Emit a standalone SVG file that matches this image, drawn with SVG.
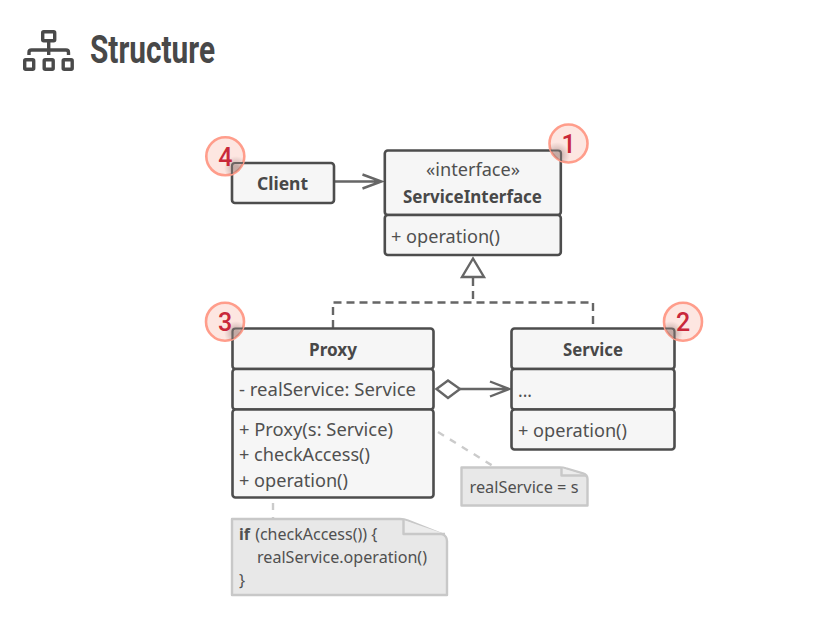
<svg xmlns="http://www.w3.org/2000/svg" width="839" height="626" viewBox="0 0 839 626">
<defs>
<radialGradient id="sh" cx="0.5" cy="0.5" r="0.5"><stop offset="0.2" stop-color="#8a6f6a" stop-opacity="0.5"/><stop offset="1" stop-color="#a08080" stop-opacity="0"/></radialGradient>
<clipPath id="c1"><circle cx="568.500" cy="143.500" r="19"/></clipPath>
<clipPath id="c2"><circle cx="683" cy="321.700" r="19"/></clipPath>
<clipPath id="c3"><circle cx="225" cy="321.700" r="19"/></clipPath>
<clipPath id="c4"><circle cx="225.300" cy="156.300" r="19"/></clipPath>
</defs>
<style>
text{font-family:"Noto Sans","Open Sans",sans-serif;fill:#505050;font-size:18.500px}
.b{font-weight:700;fill:#484848}
.box{fill:#f6f6f6;stroke:#4d4d4d;stroke-width:2.600}
.con{fill:none;stroke:#666;stroke-width:2.400}
.dash{stroke-dasharray:8 5}
.note{fill:#e8e8e8;stroke:#c8c8c8;stroke-width:2.400;stroke-linejoin:round}
.nl{fill:none;stroke:#cbcbcb;stroke-width:2.400;stroke-dasharray:7 7}
.nt{font-size:16px}
.badge{fill:#fde6e1;stroke:#ff9d8b;stroke-width:2.600}
.num{font-size:25px;font-weight:500;fill:#c9283a;text-anchor:middle;font-family:"Roboto",sans-serif}
.cor{fill:none;stroke:#6b6462;stroke-width:2.200}
.ic{fill:none;stroke:#4a4a4a;stroke-width:3.400}
</style>
<g id="header">
<g class="ic">
<rect x="42.700" y="31.700" width="12" height="9" rx="1"/>
<rect x="24.700" y="59.700" width="9" height="9.500" rx="1"/>
<rect x="44.200" y="59.700" width="9" height="9.500" rx="1"/>
<rect x="63.200" y="59.700" width="9" height="9.500" rx="1"/>
<path d="M48.700 41V55M29 55V52.500Q29 50 31.500 50H66Q68.500 50 68.500 52.500V55"/>
</g>
<text x="90" y="62.500" style="font-family:'Roboto',sans-serif;font-size:38px;font-weight:700;fill:#484848" textLength="125" lengthAdjust="spacingAndGlyphs">Structure</text>
</g>
<g id="connectors">
<path class="con" d="M335 181.500H381.500M362.500 174.500L381.500 181.500L362.500 188.500"/>
<path class="con dash" d="M473 278V302.500"/>
<path class="con dash" d="M333 328V302.500H593V328"/>
<path class="con" d="M473 258.500L462 277H484Z" style="fill:#fff"/>
<path class="con" d="M436.500 389L448 380.500L460 389L448 398Z" style="fill:#fff"/>
<path class="con" d="M460 389H509M490 381.500L509 389L490 396.500"/>
<path class="nl" d="M438 432L493 466"/>
<path class="nl" d="M273 503V518"/>
</g>
<g id="client">
<rect class="box" x="232" y="163" width="102" height="40" rx="3"/>
<text class="b" x="257" y="190" textLength="51" lengthAdjust="spacingAndGlyphs">Client</text>
</g>
<g id="service-interface">
<rect class="box" x="384.800" y="150.500" width="176" height="64.500" rx="3"/>
<rect class="box" x="384.800" y="215" width="176" height="40" rx="3"/>
<text x="426" y="176" textLength="94" lengthAdjust="spacingAndGlyphs">«interface»</text>
<text class="b" x="403" y="203" textLength="139" lengthAdjust="spacingAndGlyphs">ServiceInterface</text>
<text x="391" y="243" textLength="109" lengthAdjust="spacingAndGlyphs">+ operation()</text>
</g>
<g id="proxy">
<rect class="box" x="232.500" y="328.500" width="201" height="40.500" rx="3"/>
<rect class="box" x="232.500" y="369" width="201" height="40.500" rx="3"/>
<rect class="box" x="232.500" y="409.500" width="201" height="88" rx="3"/>
<text class="b" x="309" y="356" textLength="48" lengthAdjust="spacingAndGlyphs">Proxy</text>
<text x="239" y="396" textLength="177" lengthAdjust="spacingAndGlyphs">- realService: Service</text>
<text x="239" y="436" textLength="154" lengthAdjust="spacingAndGlyphs">+ Proxy(s: Service)</text>
<text x="239" y="461" textLength="131" lengthAdjust="spacingAndGlyphs">+ checkAccess()</text>
<text x="239" y="487" textLength="109" lengthAdjust="spacingAndGlyphs">+ operation()</text>
</g>
<g id="service">
<rect class="box" x="511.500" y="328.500" width="163" height="40.500" rx="3"/>
<rect class="box" x="511.500" y="369" width="163" height="40.500" rx="3"/>
<rect class="box" x="511.500" y="409.500" width="163" height="40" rx="3"/>
<text class="b" x="563" y="356" textLength="60" lengthAdjust="spacingAndGlyphs">Service</text>
<text x="518" y="397" textLength="14" lengthAdjust="spacingAndGlyphs">...</text>
<text x="518" y="437" textLength="109" lengthAdjust="spacingAndGlyphs">+ operation()</text>
</g>
<g id="note-assign">
<path class="note" d="M461.500 467.500H560Q563 467.500 566 468.500L583 473.500Q587.500 475 587.500 479V505.500H461.500Z"/>
<path class="note" style="fill:#ececec" d="M561.500 468V475.500H586"/>
<text class="nt" x="469.500" y="493" textLength="109" lengthAdjust="spacingAndGlyphs">realService = s</text>
</g>
<g id="note-check">
<path class="note" d="M232 519H400Q404 519 408 520.500L442 534Q447 536 447 541V595H232Z"/>
<path class="note" style="fill:#ececec" d="M403.500 520V534H445"/>
<text class="nt" x="239" y="540"><tspan font-weight="700">if</tspan><tspan dx="1"> (checkAccess()) {</tspan></text>
<text class="nt" x="257" y="563" textLength="170" lengthAdjust="spacingAndGlyphs">realService.operation()</text>
<text class="nt" x="239" y="586">}</text>
</g>
<g id="badge-1">
<circle class="badge" cx="568.500" cy="143.500" r="19"/>
<g clip-path="url(#c1)"><circle cx="557" cy="155" r="13" fill="url(#sh)"/><path class="cor" d="M550 150.500H558Q561 150.500 561 153.500V162"/></g>
<text class="num" x="568.500" y="153">1</text>
</g>
<g id="badge-2">
<circle class="badge" cx="683" cy="321.700" r="19"/>
<g clip-path="url(#c2)"><circle cx="671" cy="333" r="12" fill="url(#sh)"/><path class="cor" d="M664 328.500H671.500Q674.500 328.500 674.500 331.500V340"/></g>
<text class="num" x="683" y="331">2</text>
</g>
<g id="badge-3">
<circle class="badge" cx="225" cy="321.700" r="19"/>
<g clip-path="url(#c3)"><circle cx="236" cy="333" r="12" fill="url(#sh)"/><path class="cor" d="M244 328.500H235.500Q232.500 328.500 232.500 331.500V340"/></g>
<text class="num" x="225" y="331">3</text>
</g>
<g id="badge-4">
<circle class="badge" cx="225.300" cy="156.300" r="19"/>
<g clip-path="url(#c4)"><circle cx="236" cy="168" r="12" fill="url(#sh)"/><path class="cor" d="M244 163H235Q232 163 232 166V175"/></g>
<text class="num" x="225.300" y="165.500">4</text>
</g>
</svg>
